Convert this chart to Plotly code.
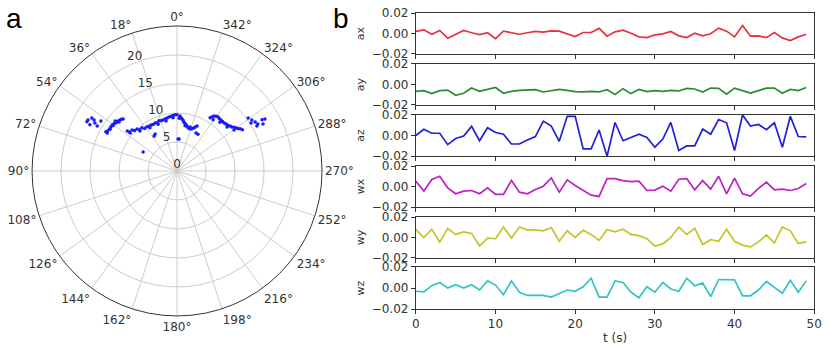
import plotly.graph_objects as go
from plotly.subplots import make_subplots

# polar scatter (panel a): angle in degrees, radius
theta = [60.2, 58.1, 59.7, 62.1, 60.6, 61.4, 58.4, 56.7,
         46.1, 48.2, 50.8, 53.3, 56.3, 59.9, 61.5, 51.1, 54.7, 49.8, 57.9,
         47.1, 49.7, 51.8, 54.6, 58.1, 61.2,
         51.3, 47.7, 43.6, 39.1, 34.3, 29.5, 24.6, 19.8, 15.4, 10.7, 6.2, 2.0,
         50.6, 46.4, 42.1, 37.4, 32.2, 27.3, 22.4, 17.6, 13.0, 8.4, 4.1,
         51.0, 42.8, 32.1, 22.0, 12.4, 4.3,
         0.0, 356.9, 354.5, 351.9, 348.9, 345.7, 341.6, 338.4, 336.0, 333.4, 330.4,
         355.7, 353.2, 350.4, 347.3, 343.6, 340.0, 337.2,
         357.8, 349.9, 343.5,
         33.3, 30.7, 60.8, 358.2, 356.4,
         328.1, 326.1, 322.8, 319.2, 315.6, 312.0, 308.7, 306.1, 303.7, 302.2,
         327.1, 324.4, 321.0, 317.4, 313.8, 310.3, 307.3, 304.9,
         324.8, 318.7, 311.3, 305.7,
         306.7, 304.2, 302.1, 300.1, 301.0, 300.6, 298.7, 303.0, 299.4]
radius = [17.7, 17.3, 16.4, 17.0, 15.8, 17.7, 16.8, 15.7,
          12.9, 13.2, 13.4, 13.6, 13.7, 13.8, 13.7, 13.7, 13.7, 13.1, 13.6,
          13.1, 13.3, 13.4, 13.5, 13.7, 14.0,
          11.0, 10.5, 10.0, 9.6, 9.2, 9.1, 9.1, 9.2, 9.1, 9.3, 9.5, 9.7,
          10.6, 10.1, 9.6, 9.2, 9.1, 9.0, 9.0, 9.1, 9.2, 9.4, 9.6,
          10.4, 9.4, 8.8, 8.7, 8.8, 9.2,
          9.7, 9.5, 9.0, 8.5, 8.1, 7.7, 7.6, 8.0, 8.5, 7.3, 7.3,
          9.2, 8.8, 8.3, 7.9, 7.6, 7.8, 8.2,
          9.1, 7.9, 7.9,
          7.2, 7.4, 6.7, 5.5, 5.5,
          10.8, 11.4, 11.7, 11.6, 11.6, 11.8, 12.1, 12.6, 13.1, 13.3,
          11.1, 11.6, 11.6, 11.6, 11.7, 12.0, 12.4, 12.8,
          10.8, 11.2, 11.5, 12.1,
          15.3, 15.6, 15.9, 16.1, 17.1, 17.6, 16.9, 15.2, 15.8]
angle_ticks = list(range(0, 360, 18))
angle_labels = [f"{a}°" for a in angle_ticks]
radial_ticks = [0, 5, 10, 15, 20]
radial_label_angle = 21.4

# time series (panel b)
t = list(range(50))
ax = [0.002, 0.0036, -0.0007, 0.003, -0.0046, -0.0007, 0.003, 0.0007, -0.001, 0.0007,
      -0.005, 0.0023, 0.0007, -0.0007, 0.0007, 0.002, 0.0013, 0.0026, 0.0023, -0.0003,
      -0.003, 0.001, 0.001, 0.005, -0.0026, 0.0016, 0.0033, 0.0003, -0.0033, -0.004,
      -0.0013, -0.0003, 0.002, -0.0023, -0.004, 0.0003, -0.0023, -0.0003, 0.0052, 0.0023,
      -0.0033, 0.0079, -0.0026, -0.0023, -0.004, 0.001, -0.0043, -0.0069, -0.0033, -0.0007]
ay = [-0.0067, -0.006, -0.0089, -0.006, -0.0054, -0.0105, -0.0086, -0.0035, -0.0067, -0.0051,
      -0.0029, -0.0086, -0.0067, -0.0057, -0.0051, -0.0051, -0.0073, -0.006, -0.0048, -0.0057,
      -0.007, -0.0073, -0.0067, -0.0073, -0.0051, -0.0098, -0.0041, -0.0089, -0.0048, -0.007,
      -0.006, -0.0067, -0.0057, -0.0063, -0.0038, -0.0044, -0.0073, -0.0035, -0.0038, -0.0095,
      -0.0035, -0.006, -0.0083, -0.006, -0.0035, -0.0035, -0.0086, -0.0048, -0.006, -0.003]
az = [0.0, 0.006, 0.0022, 0.0022, -0.0089, -0.0029, -0.0006, 0.0089, -0.0051, 0.0076,
      0.0029, 0.0013, -0.0083, -0.0083, -0.0044, -0.001, 0.014, 0.0092, -0.0057, 0.0187,
      0.0187, -0.013, -0.013, 0.0054, -0.0203, 0.0127, -0.0051, -0.0019, 0.0013, -0.0019,
      -0.0114, -0.0035, 0.0127, -0.0146, -0.0102, -0.0102, 0.0063, 0.0013, 0.0156, 0.0124,
      -0.0146, 0.020, 0.0092, 0.0108, 0.0057, 0.0124, -0.0114, 0.0187, -0.001, -0.0013]
wx = [0.0052, -0.0045, 0.0068, 0.01, -0.0013, -0.0071, -0.0045, -0.0039, -0.0071, -0.0013,
      -0.0077, -0.0077, 0.0061, -0.0055, -0.0071, -0.0029, 0.0003, 0.0084, -0.0055, 0.0065,
      0.001, -0.0039, -0.0084, -0.0097, 0.0077, 0.0077, 0.0058, 0.0048, 0.0052, -0.0039,
      -0.0035, 0.0003, -0.0045, 0.0071, 0.0077, -0.0032, 0.0058, -0.0026, 0.01, -0.0071,
      0.0081, -0.0071, -0.0094, -0.0019, 0.0042, -0.0032, -0.0026, -0.0039, -0.0019, 0.0029]
wy = [0.008, 0.0, 0.008, -0.0046, 0.0087, 0.003, 0.0055, 0.004, -0.0083, -0.0006,
      -0.0012, 0.0103, -0.0006, 0.0103, 0.0074, 0.0074, 0.0065, 0.0097, -0.0037, 0.0065,
      0.0, 0.007, 0.003, -0.0028, 0.0077, 0.0055, 0.008, 0.003, 0.0018, -0.0012,
      -0.0083, -0.0062, 0.0, 0.0103, 0.003, 0.009, -0.0068, -0.0022, -0.0037, 0.008,
      -0.0037, -0.0074, -0.0092, -0.0043, 0.0025, -0.0052, 0.0103, 0.0065, -0.0058, -0.0043]
wz = [-0.0031, -0.0037, 0.0022, 0.0053, 0.0, 0.0031, 0.0, 0.0031, -0.0019, 0.0068,
      0.0028, -0.0065, 0.0068, -0.004, -0.0071, -0.0071, -0.0071, -0.0087, -0.0056, -0.0019,
      -0.0031, 0.0012, 0.0093, -0.0087, -0.0087, 0.0068, 0.0053, -0.004, -0.0093, 0.0012,
      -0.004, 0.0053, -0.0009, -0.0031, 0.0093, 0.0022, 0.0047, -0.0081, 0.0081, 0.0081,
      0.0078, -0.0074, -0.0074, -0.0019, 0.0062, 0.0006, -0.005, 0.0074, -0.004, 0.0068]

series_names = ["ax", "ay", "az", "wx", "wy", "wz"]
series_values = [ax, ay, az, wx, wy, wz]
series_colors = ["#e8323c", "#2e8b2e", "#2020d8", "#c020c0", "#c4c42a", "#30c4c4"]
x_ticks = [0, 10, 20, 30, 40, 50]
y_ticks = [-0.02, 0.0, 0.02]

tick_font = dict(family="DejaVu Sans", size=12, color="#333333")

specs = [[{"type": "polar", "rowspan": 6}, {}]] + [[None, {}] for _ in range(5)]
fig = make_subplots(rows=6, cols=2, specs=specs)

fig.add_trace(go.Scatterpolar(r=radius, theta=theta, mode="markers",
                              marker=dict(color="#1a1aff", size=3.5),
                              showlegend=False), row=1, col=1)
# radial tick labels, placed along one direction like matplotlib does
fig.add_trace(go.Scatterpolar(r=radial_ticks, theta=[radial_label_angle] * len(radial_ticks),
                              mode="text", text=[str(v) for v in radial_ticks],
                              textposition="top center", textfont=tick_font,
                              showlegend=False, hoverinfo="skip"), row=1, col=1)

for i, (name, vals, col) in enumerate(zip(series_names, series_values, series_colors)):
    fig.add_trace(go.Scatter(x=t, y=vals, mode="lines",
                             line=dict(color=col, width=1.7),
                             showlegend=False), row=i + 1, col=2)

# panel domains (paper coords)
y_domains = [[0.8435, 0.9623], [0.6957, 0.8145], [0.5478, 0.6667],
             [0.40, 0.5188], [0.2522, 0.371], [0.1043, 0.2261]]
for i in range(6):
    n = "" if i == 0 else str(i + 1)
    fig.layout["xaxis" + n].update(
        domain=[0.501, 0.981], range=[0, 50], tickvals=x_ticks, automargin=False,
        showticklabels=(i == 5), ticks="outside", ticklen=4, tickcolor="#333",
        showline=True, linecolor="#333", mirror=True, showgrid=False,
        zeroline=False, tickfont=tick_font)
    fig.layout["yaxis" + n].update(
        domain=y_domains[i], range=[-0.02, 0.02], tickvals=y_ticks, automargin=False,
        tickformat=".2f", ticks="outside", ticklen=4, tickcolor="#333",
        showline=True, linecolor="#333", mirror=True, showgrid=False,
        zeroline=False, tickfont=tick_font,
        title=dict(text=series_names[i], font=dict(family="DejaVu Sans", size=11, color="#333"),
                   standoff=4))
fig.layout["xaxis6"].title = dict(text="t (s)", font=dict(family="DejaVu Sans", size=12, color="#333"),
                                  standoff=6)

fig.update_layout(
    width=830, height=345,
    margin=dict(l=0, r=0, t=0, b=0, autoexpand=False),
    paper_bgcolor="white", plot_bgcolor="white",
    polar=dict(
        domain=dict(x=[0.0386, 0.388], y=[0.084, 0.925]),
        bgcolor="white",
        angularaxis=dict(rotation=90, direction="counterclockwise",
                         tickvals=angle_ticks, ticktext=angle_labels,
                         ticks="", showline=True, linecolor="#333", linewidth=1,
                         gridcolor="#cccccc", tickfont=tick_font),
        radialaxis=dict(range=[0, 25], tickvals=radial_ticks, showticklabels=False,
                        showline=False, ticks="", gridcolor="#cccccc")),
    annotations=[
        dict(text="a", x=14 / 830, y=1 - 18 / 345, xref="paper", yref="paper",
             xanchor="center", yanchor="middle", showarrow=False,
             font=dict(family="Liberation Sans", size=28, color="black")),
        dict(text="b", x=341 / 830, y=1 - 18 / 345, xref="paper", yref="paper",
             xanchor="center", yanchor="middle", showarrow=False,
             font=dict(family="Liberation Sans", size=28, color="black")),
    ],
)

fig.write_html("out.html", config={"displayModeBar": False},
               post_script="document.body.style.margin='0px';")
